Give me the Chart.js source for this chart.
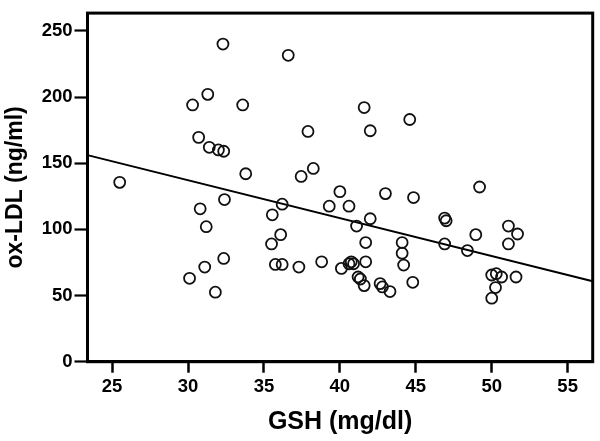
<!DOCTYPE html>
<html>
<head>
<meta charset="utf-8">
<script src="https://cdn.jsdelivr.net/npm/chart.js@4"></script>
<style>
  body { margin: 0; background: #fff; }
  canvas { display: block; }
</style>
</head>
<body>
<canvas id="scatter" width="600" height="441"></canvas>
<script>
// GSH (mg/dl) for each subject
var gsh = [32.3, 36.6, 31.3, 30.3, 33.6, 30.7, 31.4, 32.0, 32.35, 33.8,
  25.5, 41.6, 44.6, 37.9, 42.0, 38.25, 37.45, 49.2, 40.0, 43.0,
  44.85, 39.3, 40.6, 36.2, 42.0, 46.9, 47.0, 51.1, 51.7, 48.95,
  51.1, 46.9, 48.4, 41.1, 36.1, 35.5, 35.55, 32.4, 30.8, 31.2,
  32.35, 31.1, 30.1, 31.8, 41.7, 44.1, 44.1, 44.2, 41.7, 40.6,
  40.75, 40.9, 40.1, 38.8, 37.3, 35.75, 36.2, 41.2, 41.35, 41.6,
  42.65, 42.8, 43.3, 44.8, 50.0, 50.3, 50.65, 51.6, 50.25, 50.0];

// ox-LDL (ng/ml), same order
var oxLdl = [240, 231.5, 202, 194, 194, 169.5, 162, 160, 159, 142,
  135.5, 192, 183, 174, 174.5, 146, 140, 132, 128.5, 127,
  124, 117.5, 117.5, 119, 108, 108.5, 106.5, 102.5, 96.5, 96,
  89, 89, 84, 102.5, 96, 89, 111, 122.5, 115.5, 102,
  78, 71.5, 63, 52.5, 90, 90, 82, 73, 75.5, 74,
  75.5, 74, 70.5, 75.5, 71.5, 73.5, 73.5, 64, 62.5, 57.5,
  59, 56.5, 53, 60, 65.5, 66.5, 64, 64, 56, 48];

// fit line end points
var fitX = [23.38, 56.65];
var fitY = [156.1, 60.8];

var xTicks = [25, 30, 35, 40, 45, 50, 55];
var yTicks = [0, 50, 100, 150, 200, 250];

var fontFam = "'Liberation Sans', Arial, sans-serif";

var points = gsh.map(function (x, i) { return { x: x, y: oxLdl[i] }; });
var fitLine = fitX.map(function (x, i) { return { x: x, y: fitY[i] }; });

// box round the plot area (top and right sides)
var frame = {
  id: "frame",
  afterDraw: function (chart) {
    var a = chart.chartArea, c = chart.ctx;
    c.save();
    c.strokeStyle = "#000";
    c.lineWidth = 3;
    c.strokeRect(a.left, a.top, a.right - a.left, a.bottom - a.top);
    c.restore();
  }
};

new Chart(document.getElementById("scatter").getContext("2d"), {
  type: "scatter",
  data: {
    datasets: [
      {
        data: points,
        pointStyle: "circle",
        pointRadius: 5.5,
        pointBorderWidth: 1.8,
        borderColor: "#111",
        backgroundColor: "rgba(0,0,0,0)",
        pointHoverRadius: 5.5
      },
      {
        type: "line",
        data: fitLine,
        showLine: true,
        borderColor: "#000",
        borderWidth: 2,
        pointRadius: 0,
        fill: false
      }
    ]
  },
  options: {
    responsive: false,
    animation: false,
    layout: { padding: { top: 4.5, right: 5, left: 0, bottom: 0 } },
    plugins: { legend: { display: false }, tooltip: { enabled: false } },
    scales: {
      x: {
        type: "linear",
        min: 23.38,
        max: 56.65,
        afterBuildTicks: function (s) { s.ticks = xTicks.map(function (v) { return { value: v }; }); },
        afterFit: function (s) { s.height = 79.3; },
        grid: { drawOnChartArea: false, tickLength: 11, tickWidth: 2.5, tickColor: "#000" },
        border: { display: true, width: 3, color: "#000" },
        ticks: { color: "#000", padding: 3, maxRotation: 0, font: { family: fontFam, size: 18.5, weight: "bold" } },
        title: {
          display: true,
          text: "GSH (mg/dl)",
          color: "#000",
          padding: { top: 0, bottom: 4 },
          font: { family: fontFam, size: 25, weight: "bold" }
        }
      },
      y: {
        min: 0,
        max: 263.4,
        afterBuildTicks: function (s) { s.ticks = yTicks.map(function (v) { return { value: v }; }); },
        afterFit: function (s) { s.width = 87.5; },
        grid: { drawOnChartArea: false, tickLength: 13, tickWidth: 2.2, tickColor: "#000" },
        border: { display: true, width: 3, color: "#000" },
        ticks: { color: "#000", padding: 2, font: { family: fontFam, size: 18.5, weight: "bold" } },
        title: {
          display: true,
          text: "ox-LDL (ng/ml)",
          color: "#000",
          padding: { top: 2, bottom: 0 },
          font: { family: fontFam, size: 23, weight: "bold" }
        }
      }
    }
  },
  plugins: [frame]
});
</script>
</body>
</html>
